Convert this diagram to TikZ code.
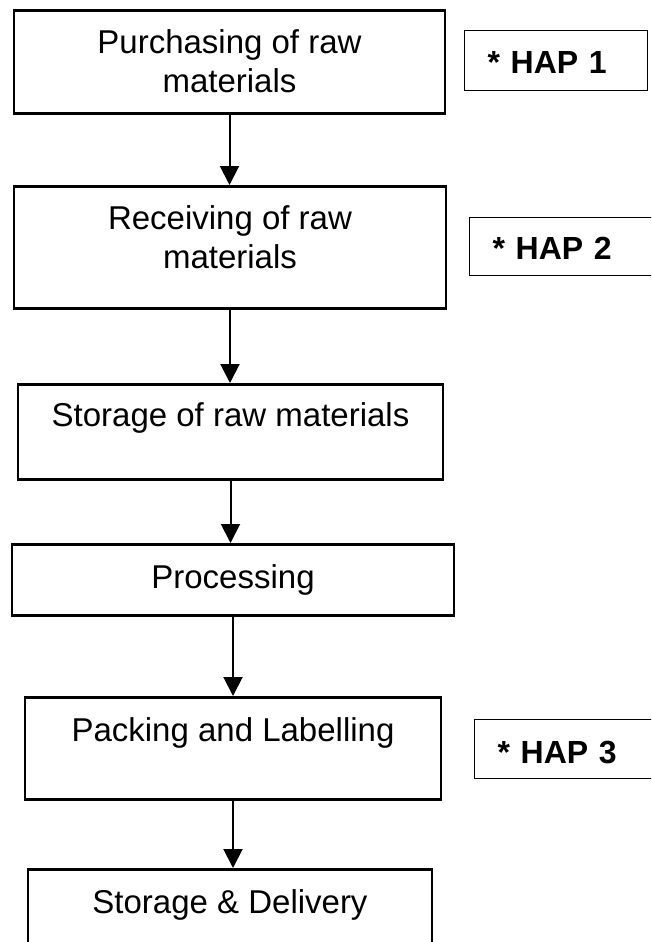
\documentclass[tikz,border=0pt]{standalone}
\usepackage{fontspec}
\setmainfont{Liberation Sans}
\usetikzlibrary{arrows.meta}

\begin{document}
\begin{tikzpicture}[
      x=1pt, y=-1pt,
      every node/.style={align=center, font=\fontsize{33}{39}\selectfont},
      stage/.style={draw, line width=2.6pt, anchor=north, inner xsep=0pt, inner ysep=0pt, text height=44pt},
      hap/.style={draw, line width=1.2pt, anchor=north west, align=left, inner xsep=23pt, inner ysep=0pt,
        text width=137pt, font=\fontsize{32}{38}\selectfont\bfseries},
      flow/.style={line width=2pt, -{Triangle[width=19pt, length=19pt]}}
    ]

      \useasboundingbox (0,0) rectangle (651,942);
      \clip (0,0) rectangle (651,942);

% Nodes
      \node[stage, minimum width=431pt, text height=82pt, text depth=21pt] (purch) at (229.5,9) {Purchasing of raw\\materials};
      \node[stage, minimum width=432pt, text height=82pt, text depth=40pt] (recv) at (230,185) {Receiving of raw\\materials};
      \node[stage, minimum width=425pt, text height=42pt, text depth=53pt] (store) at (230.5,383) {Storage of raw materials};
      \node[stage, minimum width=442pt, text depth=27pt] (proc) at (233,543) {Processing};
      \node[stage, minimum width=416pt, text depth=58pt] (pack) at (233,696) {Packing and Labelling};
      \node[stage, minimum width=404pt, text depth=55pt] (deliv) at (230,868) {Storage \& Delivery};

      \node[hap, text height=43pt, text depth=17pt] (hapa) at (464,30) {* HAP 1};
      \node[hap, text height=42pt, text depth=16pt] (hapb) at (469,217) {* HAP 2};
      \node[hap, text height=44pt, text depth=15pt] (hapc) at (474,719) {* HAP 3};

% Connections
      \draw[flow] (purch) -- (purch |- recv.north);
      \draw[flow] (recv) -- (recv |- store.north);
      \draw[flow] (store) -- (store |- proc.north);
      \draw[flow] (proc) -- (proc |- pack.north);
      \draw[flow] (pack) -- (pack |- deliv.north);

    \end{tikzpicture}
\end{document}
